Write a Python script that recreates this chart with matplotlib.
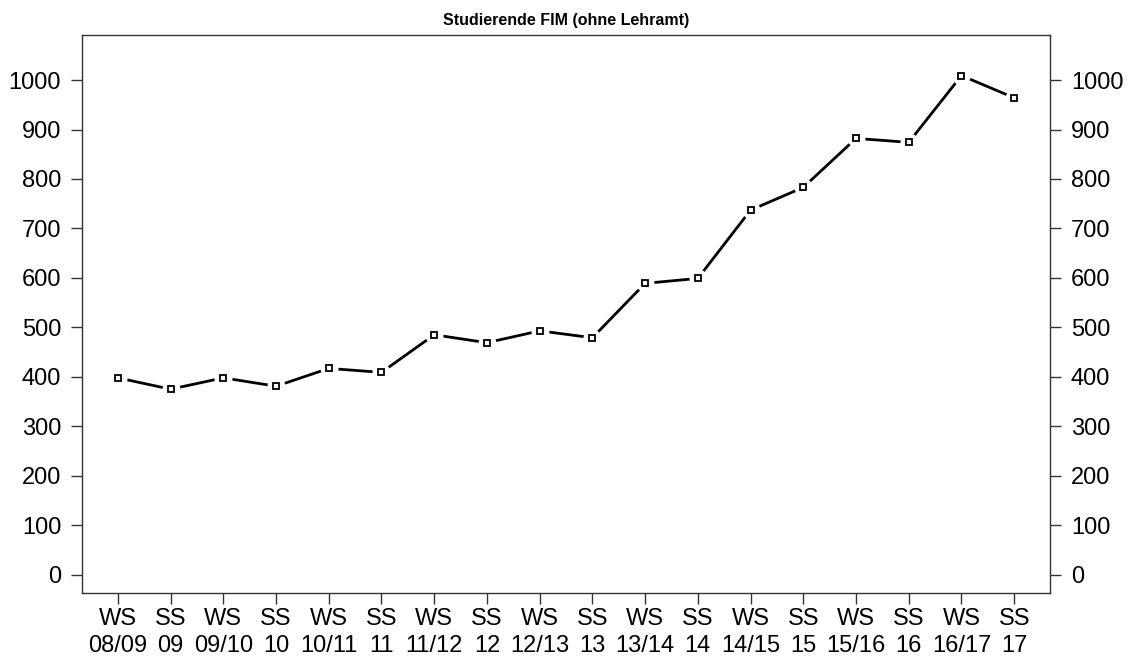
import matplotlib
matplotlib.use("Agg")
import matplotlib.pyplot as plt
import numpy as np

plt.rcParams['font.family'] = ['Liberation Sans', 'DejaVu Sans']

semesters = ["WS\n08/09", "SS\n09", "WS\n09/10", "SS\n10", "WS\n10/11", "SS\n11",
             "WS\n11/12", "SS\n12", "WS\n12/13", "SS\n13", "WS\n13/14", "SS\n14",
             "WS\n14/15", "SS\n15", "WS\n15/16", "SS\n16", "WS\n16/17", "SS\n17"]
studierende = [398, 375, 398, 381, 417, 409, 485, 469, 493, 479,
               589, 599, 737, 783, 882, 874, 1009, 964]
yticks = [0, 100, 200, 300, 400, 500, 600, 700, 800, 900, 1000]

x = np.arange(1, len(studierende) + 1)

fig = plt.figure(figsize=(11.28, 6.57), dpi=100)
ax = fig.add_axes([0.0727, 0.0974, 0.8582, 0.8493])

# line with gaps around the points (type "b")
ax.plot(x, studierende, color='black', lw=2, solid_capstyle='butt', zorder=1)
ax.plot(x, studierende, ls='none', marker='o', ms=13, mfc='white', mec='none', zorder=2)
ax.plot(x, studierende, ls='none', marker='s', ms=4.2, mfc='white', mec='black', mew=1.3, zorder=3)

ax.set_xlim(0.32, 18.68)
ax.set_ylim(-37, 1091)
ax.set_xticks(x)
ax.set_xticklabels(semesters, fontsize=17, linespacing=1.3)
ax.set_yticks(yticks)
ax.set_yticklabels([str(v) for v in yticks], fontsize=17)
ax.tick_params(axis='both', direction='out', length=8, width=1, color='#333333', pad=3)
ax.tick_params(axis='y', right=True, labelright=True, pad=7)
for s in ax.spines.values():
    s.set_color('#333333')
    s.set_linewidth(1)

ax.set_title("Studierende FIM (ohne Lehramt)", fontsize=11.5, fontweight='bold', pad=7)

fig.savefig("out.png", dpi=100)
